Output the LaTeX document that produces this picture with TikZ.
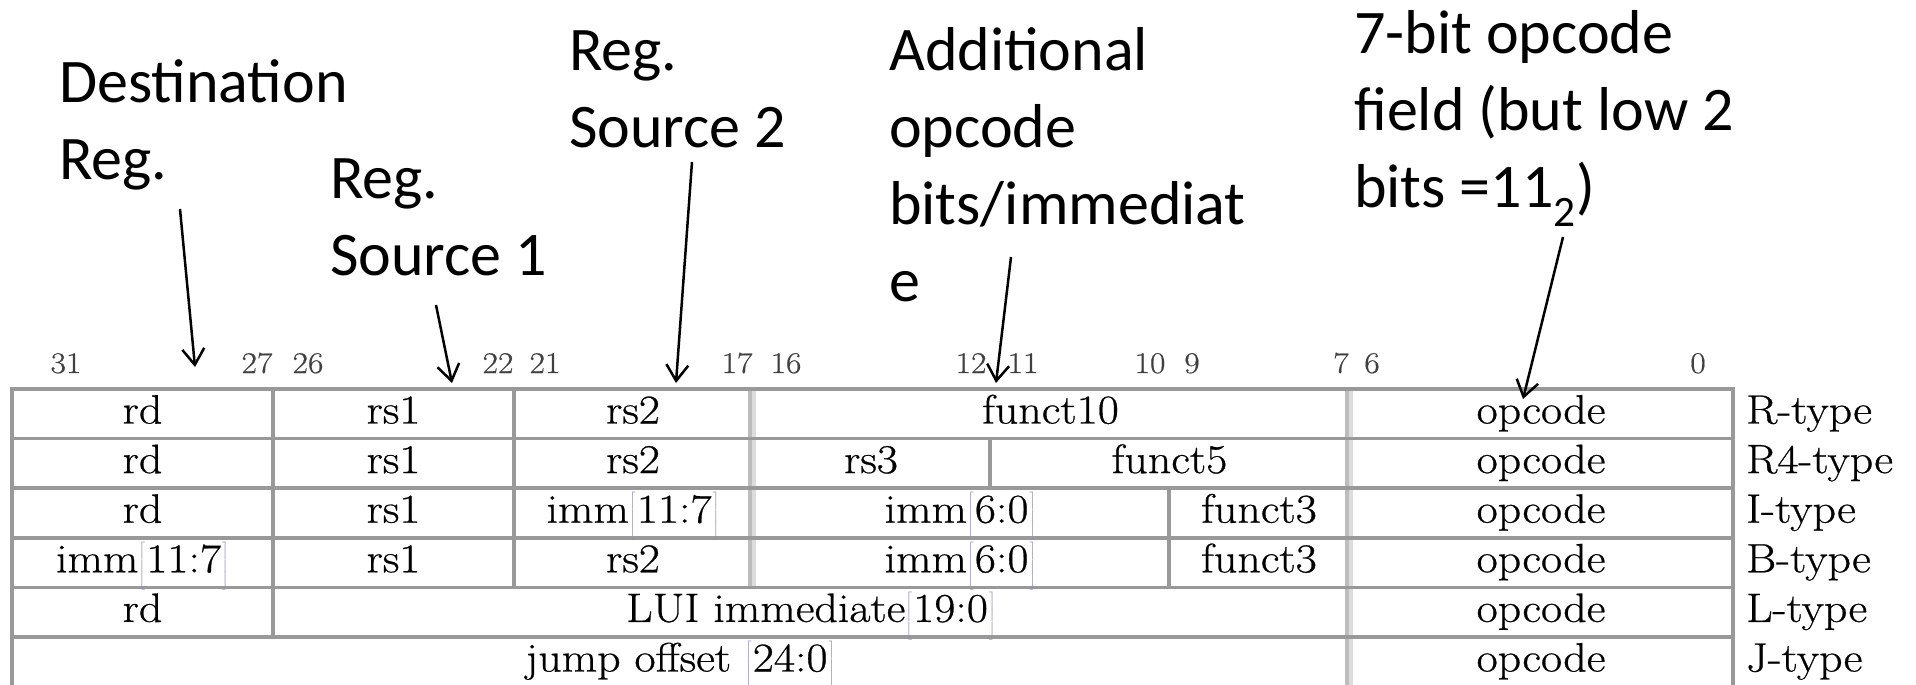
\documentclass[tikz,border=0pt]{standalone}
\usepackage{fontspec}
\setmainfont{Latin Modern Roman}[FakeStretch=1.12, FakeBold=0.6]
\newfontfamily\calloutfont{Carlito}
\usetikzlibrary{arrows.meta}

\definecolor{gridgray}{HTML}{999999}
\definecolor{softgray}{HTML}{BDBDBD}
\definecolor{palegray}{HTML}{DCDCDC}
\definecolor{brkgray}{HTML}{958EB0}

% bit-range suffix with faint brackets as tall as the row, as in imm[11:7]
\newcommand{\tallstrut}{\vrule height 32pt depth 12pt width 0pt}
\newcommand{\bitrange}[1]{\textcolor{brkgray}{$\left[\tallstrut\right.$}#1\textcolor{brkgray}{$\left.\tallstrut\right]$}}

\begin{document}
\begin{tikzpicture}[x=1pt,y=-1pt,
  callout/.style={font=\calloutfont\fontsize{62}{77}\selectfont, align=left, anchor=base west, inner sep=0pt},
  cell/.style={font=\fontsize{41}{49}\selectfont, anchor=base, inner sep=0pt},
  bitno/.style={font=\fontsize{30}{36}\selectfont, text=black!75, anchor=base, inner sep=0pt},
  kind/.style={font=\fontsize{41}{49}\selectfont, anchor=base west, inner sep=0pt},
  rule/.style={draw=gridgray, line width=3.5pt},
  softrule/.style={draw=softgray, line width=4pt},
  palerule/.style={draw=palegray, line width=4pt},
  pointer/.style={line width=2.5pt, -{Straight Barb[length=16pt,width=22pt,line width=2.5pt]}}
]
\useasboundingbox (0,0) rectangle (1916,685);

% ---------- grid: vertical rules ----------
\draw[softrule] (750,389) -- (750,587.4);
\draw[palerule] (754,389) -- (754,587.4);
\draw[softrule] (1347,389) -- (1347,690);
\draw[palerule] (1351,389) -- (1351,690);
\draw[rule] (12,389) -- (12,690);
\draw[rule] (1733,389) -- (1733,690);
\draw[rule] (273,389) -- (273,637);
\draw[rule] (514,389) -- (514,587.4);
\draw[rule] (990,438.6) -- (990,488.2);
\draw[rule] (1169,488.2) -- (1169,587.4);

% ---------- grid: horizontal rules ----------
\foreach \yy in {389,438.6,488.2,537.8,587.4,637,686.6}
  \draw[rule] (10.25,\yy) -- (1734.75,\yy);

% ---------- bit numbers ----------
\node[bitno] (b31) at (66,373) {31};
\node[bitno] (b27) at (257,373) {27};
\node[bitno] (b26) at (308,373) {26};
\node[bitno] (b22) at (498,373) {22};
\node[bitno] (b21) at (545,373) {21};
\node[bitno] (b17) at (737,373) {17};
\node[bitno] (b16) at (786,373) {16};
\node[bitno] (b12) at (971,373) {12};
\node[bitno] (b11) at (1023,373) {11};
\node[bitno] (b10) at (1150,373) {10};
\node[bitno] (b9)  at (1192,373) {9};
\node[bitno] (b7)  at (1341,373) {7};
\node[bitno] (b6)  at (1372,373) {6};
\node[bitno] (b0)  at (1698,373) {0};

% ---------- R-type ----------
\node[cell] (r-rd)  at (142.5,423.5) {rd};
\node[cell] (r-rs1) at (393.5,423.5) {rs1};
\node[cell] (r-rs2) at (633,423.5) {rs2};
\node[cell] (r-fn)  at (1050.5,423.5) {funct10};
\node[cell] (r-op)  at (1541,423.5) {opcode};
\node[kind] (r-kind) at (1746,423.5) {R-type};

% ---------- R4-type ----------
\node[cell] (r4-rd)  at (142.5,473.1) {rd};
\node[cell] (r4-rs1) at (393.5,473.1) {rs1};
\node[cell] (r4-rs2) at (633,473.1) {rs2};
\node[cell] (r4-rs3) at (871,473.1) {rs3};
\node[cell] (r4-fn)  at (1169.5,473.1) {funct5};
\node[cell] (r4-op)  at (1541,473.1) {opcode};
\node[kind] (r4-kind) at (1746,473.1) {R4-type};

% ---------- I-type ----------
\node[cell] (i-rd)   at (142.5,522.7) {rd};
\node[cell] (i-rs1)  at (393.5,522.7) {rs1};
\node[cell] (i-immh) at (633,522.7) {imm\bitrange{11:7}};
\node[cell] (i-imml) at (960.5,522.7) {imm\bitrange{6:0}};
\node[cell] (i-fn)   at (1259,522.7) {funct3};
\node[cell] (i-op)   at (1541,522.7) {opcode};
\node[kind] (i-kind) at (1746,522.7) {I-type};

% ---------- B-type ----------
\node[cell] (b-immh) at (142.5,572.3) {imm\bitrange{11:7}};
\node[cell] (b-rs1)  at (393.5,572.3) {rs1};
\node[cell] (b-rs2)  at (633,572.3) {rs2};
\node[cell] (b-imml) at (960.5,572.3) {imm\bitrange{6:0}};
\node[cell] (b-fn)   at (1259,572.3) {funct3};
\node[cell] (b-op)   at (1541,572.3) {opcode};
\node[kind] (b-kind) at (1746,572.3) {B-type};

% ---------- L-type ----------
\node[cell] (l-rd)  at (142.5,621.9) {rd};
\node[cell] (l-imm) at (811,621.9) {LUI immediate\bitrange{19:0}};
\node[cell] (l-op)  at (1541,621.9) {opcode};
\node[kind] (l-kind) at (1746,621.9) {L-type};

% ---------- J-type ----------
\node[cell] (j-off) at (680.5,671.5) {jump offset \bitrange{24:0}};
\node[cell] (j-op)  at (1541,671.5) {opcode};
\node[kind] (j-kind) at (1746,671.5) {J-type};

% ---------- callouts (anchored on the baseline of their last line) ----------
\node[callout] (dst) at (59,179) {Destination\\Reg.};
\node[callout] (src1) at (330,275) {Reg.\\Source 1};
\node[callout] (src2) at (569,147) {Reg.\\Source 2};
\node[callout] (extra) at (889,301) {Additional\\opcode\\bits/immediat\\e};
\node[callout] (opc) at (1354,207) {7-bit opcode\\field (but low 2\\bits =11\textsubscript{2})};

% ---------- pointers ----------
\coordinate (dst-tail) at (180,209);
\coordinate (dst-head) at (195,367);
\coordinate (src1-tail) at (436,305);
\coordinate (src1-head) at (452,383);
\coordinate (src2-tail) at (692,162);
\coordinate (src2-head) at (676,383);
\coordinate (extra-tail) at (1011,257);
\coordinate (extra-head) at (996,383);
\coordinate (opc-tail) at (1563,237);
\coordinate (opc-head) at (1523,399);
\draw[pointer] (dst-tail) -- (dst-head);
\draw[pointer] (src1-tail) -- (src1-head);
\draw[pointer] (src2-tail) -- (src2-head);
\draw[pointer] (extra-tail) -- (extra-head);
\draw[pointer] (opc-tail) -- (opc-head);
\end{tikzpicture}
\end{document}
